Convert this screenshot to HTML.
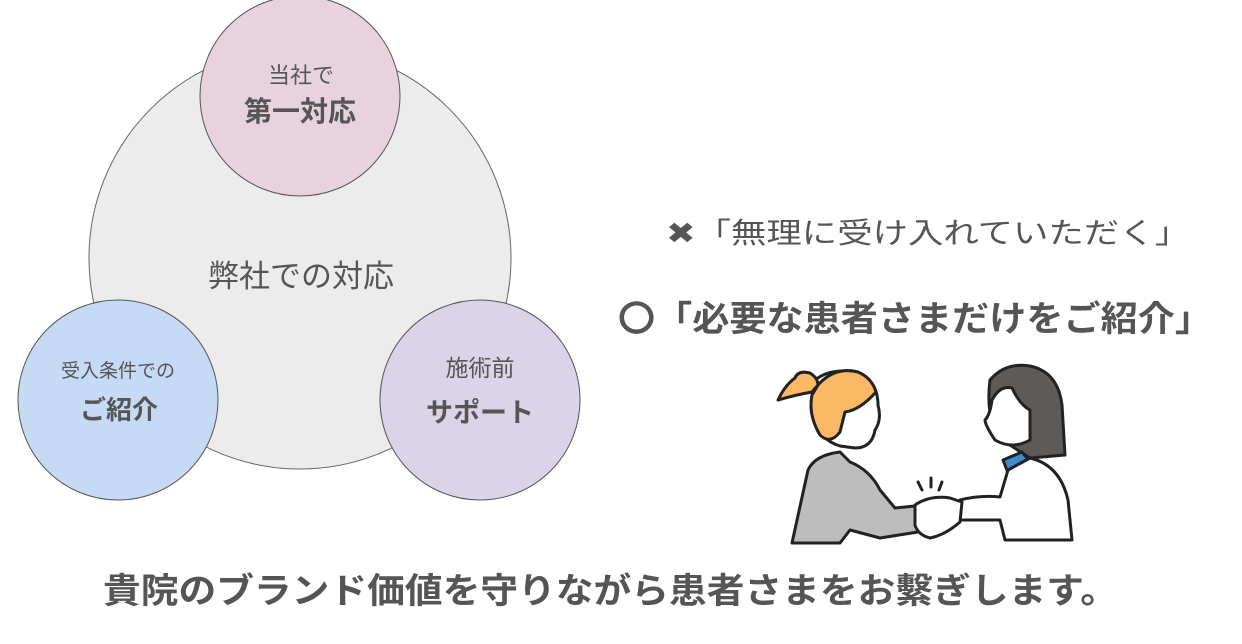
<!DOCTYPE html>
<html><head><meta charset="utf-8"><style>
html,body{margin:0;padding:0;background:#fff;width:1242px;height:644px;overflow:hidden}
text{font-family:"Liberation Sans","Noto Sans CJK JP",sans-serif;fill:#555}
</style></head><body>
<svg width="1242" height="644" viewBox="0 0 1242 644" xmlns="http://www.w3.org/2000/svg">
<circle cx="300" cy="258" r="211" fill="#ececec" stroke="#666" stroke-width="1"/>
<circle cx="300" cy="96" r="100" fill="#e8d2de" stroke="#555" stroke-width="1"/>
<circle cx="118" cy="400" r="100" fill="#c7daf5" stroke="#555" stroke-width="1"/>
<circle cx="480" cy="400" r="100" fill="#dbd3e8" stroke="#555" stroke-width="1"/>
<text x="301" y="287" font-size="31" text-anchor="middle">弊社での対応</text>
<text x="301" y="83" font-size="22" text-anchor="middle">当社で</text>
<text x="300" y="121" font-size="28" font-weight="bold" text-anchor="middle">第一対応</text>
<text x="118" y="377" font-size="19" text-anchor="middle">受入条件での</text>
<text x="119" y="419" font-size="26" font-weight="bold" text-anchor="middle">ご紹介</text>
<text x="480" y="376" font-size="23" text-anchor="middle">施術前</text>
<text x="480" y="422" font-size="27" font-weight="bold" text-anchor="middle">サポート</text>
<text x="666" y="243" font-size="29" textLength="524" lengthAdjust="spacingAndGlyphs">✖「無理に受け入れていただく」</text>
<text x="618" y="331" font-size="35" font-weight="bold" textLength="594" lengthAdjust="spacingAndGlyphs">〇「必要な患者さまだけをご紹介」</text>
<text x="103" y="603" font-size="35" font-weight="bold" textLength="1015" lengthAdjust="spacingAndGlyphs">貴院のブランド価値を守りながら患者さまをお繫ぎします。</text>
<g stroke="#222" stroke-width="3" stroke-linejoin="round" stroke-linecap="round">
<path d="M792,543 L808,470 Q815,455 840,452 L850,462 Q870,470 880,490 L895,508 L915,506 L918,532 L880,538 L850,530 L840,543 Z" fill="#bdbdbd"/>
<path d="M815,380 Q830,368 855,372 Q878,380 878,405 Q882,420 875,430 Q872,448 855,448 L840,446 Q820,440 815,420 Z" fill="#fff"/>
<path d="M818,385 Q835,366 858,372 Q872,378 876,392 Q860,410 845,412 L840,432 Q830,445 820,435 Q808,415 812,395 Z" fill="#fcb965"/>
<path d="M812,392 Q795,395 778,400 Q785,385 795,378 Q798,370 810,373 Q818,378 818,385 Z" fill="#fcb965"/>
<path d="M990,380 Q1005,362 1030,366 Q1058,372 1062,405 L1065,455 L1030,458 L1002,440 Q985,420 990,380 Z" fill="#5d5a58"/>
<path d="M992,400 Q1000,385 1012,388 Q1020,405 1030,410 L1030,440 Q1012,450 995,440 Q985,425 985,420 Q990,415 992,400 Z" fill="#fff"/>
<path d="M1003,460 L1022,452 L1030,462 L1010,478 Z" fill="#3d8bd0"/>
<path d="M960,500 Q980,495 1000,497 L1008,470 L1030,458 Q1060,465 1068,500 L1072,540 L1005,540 L1000,520 L960,520 Z" fill="#fff"/>
<path d="M915,505 Q930,495 950,498 L962,502 L960,522 Q945,535 930,538 Q918,535 915,525 Z" fill="#fff"/>
<path d="M918,482 L922,490 M931,478 L931,487 M942,482 L939,490" fill="none"/>
</g>
</svg>
</body></html>
